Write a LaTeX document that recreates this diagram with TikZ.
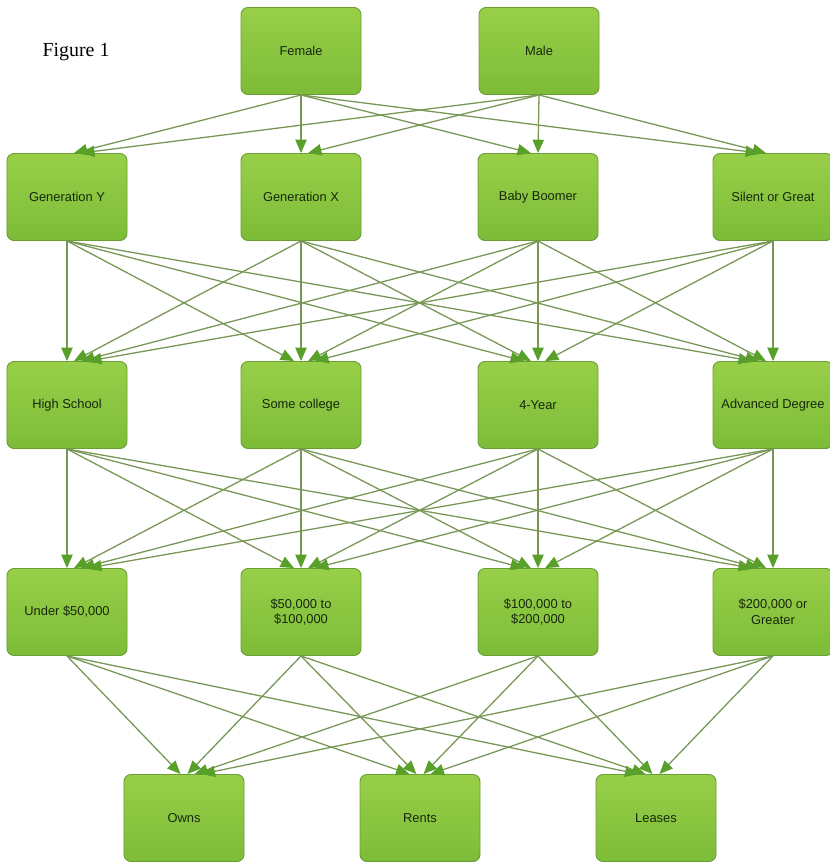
\documentclass[tikz,border=0pt]{standalone}
\usepackage{fontspec}
\setmainfont{Liberation Serif}
\newfontfamily\boxfont{Liberation Sans}
\usetikzlibrary{arrows.meta, calc}
\definecolor{BoxTop}{HTML}{98CF48}
\definecolor{BoxBottom}{HTML}{7DBC38}
\definecolor{BoxEdge}{HTML}{6A9E34}
\definecolor{LinkGreen}{HTML}{789756}
\definecolor{TipGreen}{HTML}{58A02A}
\definecolor{LabelGreen}{HTML}{17280D}

\tikzset{
  box/.style={draw=BoxEdge, line width=0.8pt, rounded corners=6pt, top color=BoxTop, bottom color=BoxBottom,
    minimum width=3.6cm, minimum height=2.61cm, inner sep=0pt, align=center, text=LabelGreen,
    font=\boxfont\fontsize{11}{13.5}\selectfont},
  link/.style={draw=LinkGreen, line width=1.1pt, -{Triangle[length=0.4cm, width=0.34cm, color=TipGreen]}}
}

\begin{document}
\begin{tikzpicture}[x=0.03cm, y=-0.03cm]
  \useasboundingbox (0,0) rectangle (829,864);

  \node (fig) at (76,52) {\fontsize{17}{20}\selectfont Figure 1};

  % gender
  \node (fem) [box] at (301,51) {Female};
  \node (male) [box] at (539,51) {Male};

  % generation
  \node (gy) [box] at (67,197) {Generation Y};
  \node (gx) [box] at (301,197) {Generation X};
  \node (bb) [box] at (538,197) {Baby Boomer};
  \node (sg) [box] at (773,197) {Silent or Great};

  % education
  \node (hs) [box] at (67,405) {High School};
  \node (sc) [box] at (301,405) {Some college};
  \node (fy) [box] at (538,405) {4-Year};
  \node (ad) [box] at (773,405) {Advanced Degree};

  % income
  \node (ua) [box] at (67,612) {Under \$50,000};
  \node (ub) [box] at (301,612) {\$50,000 to\\\$100,000};
  \node (uc) [box] at (538,612) {\$100,000 to\\\$200,000};
  \node (ud) [box] at (773,612) {\$200,000 or\\Greater};

  % housing
  \node (owns) [box] at (184,818) {Owns};
  \node (rents) [box] at (420,818) {Rents};
  \node (leases) [box] at (656,818) {Leases};

  \foreach \s/\tlist in {fem/{gy,gx,bb,sg}, male/{gy,gx,bb,sg},
      gy/{hs,sc,fy,ad}, gx/{hs,sc,fy,ad}, bb/{hs,sc,fy,ad}, sg/{hs,sc,fy,ad},
      hs/{ua,ub,uc,ud}, sc/{ua,ub,uc,ud}, fy/{ua,ub,uc,ud}, ad/{ua,ub,uc,ud},
      ua/{owns,rents,leases}, ub/{owns,rents,leases}, uc/{owns,rents,leases}, ud/{owns,rents,leases}}
    \foreach \t in \tlist
      \draw[link] let \p1=(\s.south), \p2=(\t.north) in (\p1) -- ($(\p2)+({0.03*(\x1-\x2)},0)$);
\end{tikzpicture}
\end{document}
